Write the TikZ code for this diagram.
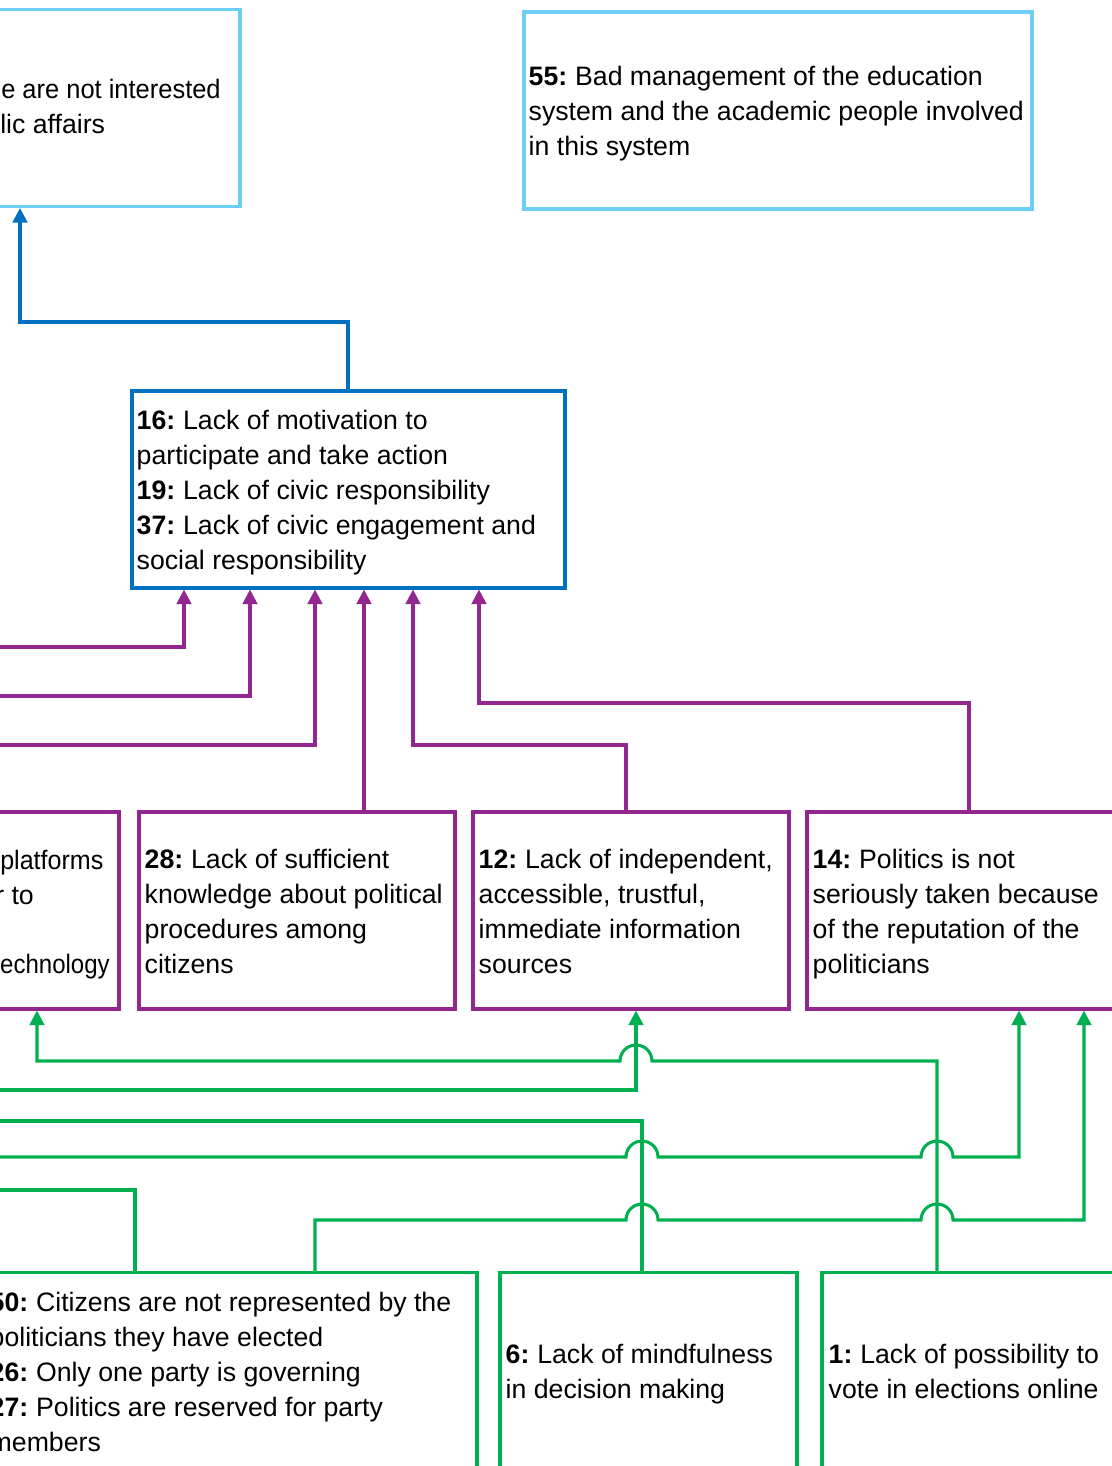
\documentclass[tikz,border=0pt]{standalone}
\usepackage{fontspec}
\setmainfont{Liberation Sans}
\usetikzlibrary{arrows.meta,positioning}
\definecolor{cskyblue}{HTML}{6DCFF6}
\definecolor{cblue}{HTML}{0070C0}
\definecolor{cpurple}{HTML}{92278F}
\definecolor{cgreen}{HTML}{00B050}
\newcommand{\cid}[1]{\textbf{#1}\kern-1.5pt\relax}

\begin{document}
\begin{tikzpicture}[x=0.75pt,y=-0.75pt,
		box/.style={draw,rectangle,line width=2.3pt,minimum height=147.75pt,inner sep=0pt},
		txt/.style={align=left,inner sep=0pt,yshift=-4.5pt,font=\fontsize{20}{26.25}\selectfont,
			execute at begin node=\strut,execute at end node=\strut},
		frag/.style={inner sep=0pt,anchor=base west,font=\fontsize{20}{26.25}\selectfont},
		link/.style={line width=2.3pt},
		tip/.style={-{Triangle[width=11pt,length=11pt]}}]
			\useasboundingbox (0,0) rectangle (1112,1466);
			\clip (0,0) rectangle (1112,1466);
			% boxes
			\node[box,draw=cskyblue,minimum width=330pt] (nA) at (20,108) {};
			\node[box,draw=cskyblue,minimum width=381pt] (n55) at (778,110.5) {};
			\node[box,draw=cblue,minimum width=324.75pt] (n16) at (348.5,489.5) {};
			\node[box,draw=cpurple,minimum width=268.5pt] (nL) at (-60,910.5) {};
			\node[box,draw=cpurple,minimum width=237pt] (n28) at (297,910.5) {};
			\node[box,draw=cpurple,minimum width=237pt] (n12) at (631,910.5) {};
			\node[box,draw=cpurple,minimum width=237pt] (n14) at (965,910.5) {};
			\node[box,draw=cgreen,minimum width=369.75pt] (n50) at (230.5,1371) {};
			\node[box,draw=cgreen,minimum width=222.75pt] (n6) at (648.5,1371) {};
			\node[box,draw=cgreen,minimum width=222.75pt] (n1) at (970.5,1371) {};
			% texts
			\node[frag,xscale=0.955] (tA1) at (1,99) {e are not interested};
			\node[frag] (tA2) at (0,134) {lic affairs};
			\node[txt,right=4.5pt of n55.west] (t55) {\cid{55:} Bad management of the education\\system and the academic people involved\\in this system};
			\node[txt,right=4.5pt of n16.west] (t16) {\cid{16:} Lack of motivation to\\participate and take action\\\cid{19:} Lack of civic responsibility\\\cid{37:} Lack of civic engagement and\\social responsibility};
			\node[frag,xscale=0.94] (tL1) at (0,869) {platforms};
			\node[frag] (tL2) at (-5,904) {r to};
			\node[frag,xscale=0.9] (tL3) at (0,973) {echnology};
			\node[txt,right=5.25pt of n28.west] (t28) {\cid{28:} Lack of sufficient\\knowledge about political\\procedures among\\citizens};
			\node[txt,right=5.25pt of n12.west] (t12) {\cid{12:} Lack of independent,\\accessible, trustful,\\immediate information\\sources};
			\node[txt,right=5.25pt of n14.west] (t14) {\cid{14:} Politics is not\\seriously taken because\\of the reputation of the\\politicians};
			\node[txt,right=5.25pt of n50.west] (t50) {\cid{50:} Citizens are not represented by the\\politicians they have elected\\\cid{26:} Only one party is governing\\\cid{27:} Politics are reserved for party\\members};
			\node[txt,right=5.25pt of n6.west] (t6) {\cid{6:} Lack of mindfulness\\in decision making};
			\node[txt,right=6pt of n1.west] (t1) {\cid{1:} Lack of possibility to\\vote in elections online};
			% free ends
			\coordinate (p1) at (-10,647);
			\coordinate (p2) at (-10,696);
			\coordinate (p3) at (-10,745);
			\coordinate (g2) at (-10,1090);
			\coordinate (g3) at (-10,1157);
			\coordinate (g5) at (-10,1121);
			\coordinate (g6) at (-10,1190);
			% blue
			\draw[link,cblue,tip] (348,0 |- n16.north) -- (348,322) -- (20,322) -- (20,0 |- nA.south);
			% purple
			\draw[link,cpurple,tip] (p1) -- (184,647) -- (184,0 |- n16.south);
			\draw[link,cpurple,tip] (p2) -- (250,696) -- (250,0 |- n16.south);
			\draw[link,cpurple,tip] (p3) -- (315,745) -- (315,0 |- n16.south);
			\draw[link,cpurple,tip] (364,0 |- n28.north) -- (364,0 |- n16.south);
			\draw[link,cpurple,tip] (626,0 |- n12.north) -- (626,745) -- (413,745) -- (413,0 |- n16.south);
			\draw[link,cpurple,tip] (969,0 |- n14.north) -- (969,703) -- (479,703) -- (479,0 |- n16.south);
			% green
			\draw[link,cgreen,tip] (937,0 |- n1.north) -- (937,1061) -- (652,1061) arc[start angle=0,end angle=180,radius=12pt] -- (37,1061) -- (37,0 |- nL.south);
			\draw[link,cgreen,tip] (g2) -- (636,1090) -- (636,0 |- n12.south);
			\draw[link,cgreen,tip] (g3) -- (626,1157) arc[start angle=180,end angle=0,radius=12pt] -- (921,1157) arc[start angle=180,end angle=0,radius=12pt] -- (1019,1157) -- (1019,0 |- n14.south);
			\draw[link,cgreen,tip] (315,0 |- n50.north) -- (315,1220) -- (626,1220) arc[start angle=180,end angle=0,radius=12pt] -- (921,1220) arc[start angle=180,end angle=0,radius=12pt] -- (1084,1220) -- (1084,0 |- n14.south);
			\draw[link,cgreen] (642,0 |- n6.north) -- (642,1121) -- (g5);
			\draw[link,cgreen] (135,0 |- n50.north) -- (135,1190) -- (g6);
		\end{tikzpicture}
\end{document}
